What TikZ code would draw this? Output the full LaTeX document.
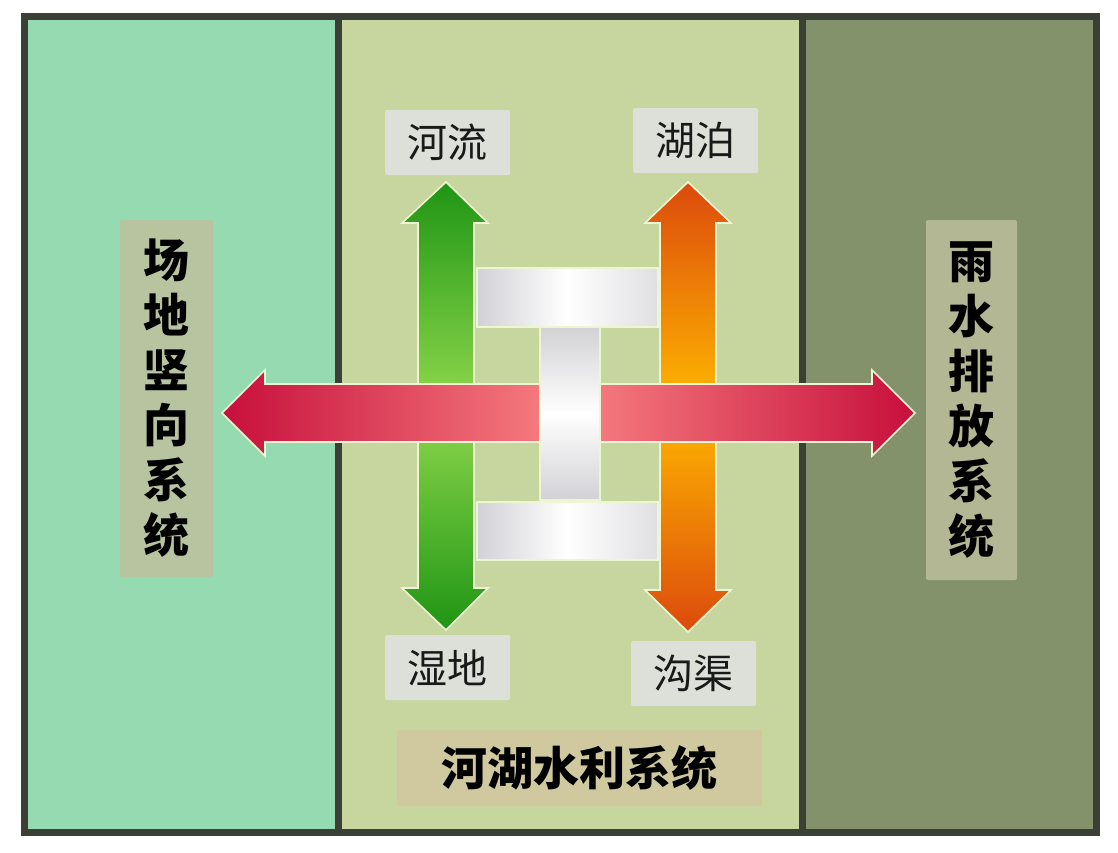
\documentclass[tikz,border=0pt]{standalone}
\usepackage{fontspec}
\newfontfamily\cjk{Noto Sans CJK SC}
\definecolor{frame}{HTML}{3A4035}
\definecolor{panelL}{HTML}{96DAB2}
\definecolor{panelM}{HTML}{C6D69E}
\definecolor{panelR}{HTML}{83926B}
\definecolor{boxL}{HTML}{B7C49F}
\definecolor{boxR}{HTML}{B4B793}
\definecolor{boxS}{HTML}{DDE0D9}
\definecolor{boxT}{HTML}{D0C89F}
\definecolor{edge}{HTML}{EEF5D2}
\definecolor{gDark}{HTML}{1F9514}
\definecolor{gLight}{HTML}{8FD84C}
\definecolor{oDark}{HTML}{DC4A0C}
\definecolor{oLight}{HTML}{FFB800}
\definecolor{rDark}{HTML}{C70F3C}
\definecolor{rLight}{HTML}{F88282}
\definecolor{wGray}{HTML}{D2D2D6}
\tikzset{
  panel/.style={draw=frame, line width=7pt},
  sidebox/.style={rounded corners=2pt, inner sep=0pt, align=center,
    font=\cjk\bfseries\fontsize{46}{55}\selectfont, text=black},
  smallbox/.style={fill=boxS, rounded corners=2pt, minimum width=125pt, minimum height=65pt,
    inner sep=0pt, font=\cjk\fontsize{40}{44}\selectfont, text=black!90},
  titlebox/.style={fill=boxT, rounded corners=2pt, minimum width=365pt, minimum height=76pt,
    inner sep=0pt, font=\cjk\bfseries\fontsize{46}{50}\selectfont, text=black},
  outl/.style={draw=edge, line width=1.6pt, line join=miter},
}
\begin{document}
\begin{tikzpicture}[x=1pt,y=-1pt]
\useasboundingbox (0,0) rectangle (1118,852);
% panels
\fill[panelL] (24,16) rectangle (338.5,832);
\fill[panelM] (338.5,16) rectangle (802,832);
\fill[panelR] (802,16) rectangle (1096,832);
\draw[panel] (24,16) rectangle (1096,832);
\draw[panel] (338.5,16) -- (338.5,832);
\draw[panel] (802,16) -- (802,832);
% side labels
\node[sidebox, fill=boxL, minimum width=93pt, minimum height=357pt] (site) at (166.5,398.5) {场\\地\\竖\\向\\系\\统};
\node[sidebox, fill=boxR, minimum width=91pt, minimum height=360pt] (rain) at (971.5,400) {雨\\水\\排\\放\\系\\统};
% small labels
\node[smallbox] (river) at (447.5,142.5) {河流};
\node[smallbox] (lake) at (695.5,140.5) {湖泊};
\node[smallbox] (wet) at (447.5,667.5) {湿地};
\node[smallbox] (ditch) at (693.5,673.5) {沟渠};
\node[titlebox] (sys) at (579.5,768) {河湖水利系统};
% white bars (top and bottom)
\shade[left color=wGray, right color=wGray!70, middle color=white, outl] (477,268) rectangle (658,327);
\shade[left color=wGray, right color=wGray!70, middle color=white, outl] (477,502) rectangle (658,560);
% green double arrow
\shade[top color=gDark, bottom color=gDark, middle color=gLight, outl]
  (446,182) -- (488,223) -- (474,223) -- (474,588) -- (488,588) -- (446,630)
  -- (402,588) -- (418,588) -- (418,223) -- (402,223) -- cycle;
% orange double arrow
\shade[top color=oDark, bottom color=oDark, middle color=oLight, outl]
  (688,182) -- (731,223) -- (716,223) -- (716,590) -- (731,590) -- (688,632)
  -- (645,590) -- (660,590) -- (660,223) -- (645,223) -- cycle;
% red double arrow
\shade[left color=rDark, right color=rDark, middle color=rLight, outl]
  (222,413) -- (265,370) -- (265,384) -- (872,384) -- (872,370) -- (915,413)
  -- (872,456) -- (872,442) -- (265,442) -- (265,456) -- cycle;
% central white bar
\shade[top color=wGray, bottom color=wGray, middle color=white, outl] (540,327) rectangle (600,500);
\end{tikzpicture}
\end{document}
